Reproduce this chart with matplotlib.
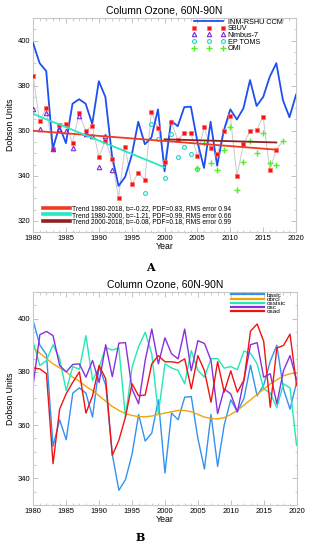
import matplotlib

matplotlib.use("Agg")
import matplotlib.pyplot as plt
from matplotlib.ticker import MultipleLocator

plt.rcParams["font.family"] = ["Liberation Sans", "DejaVu Sans"]

years = list(range(1980, 2021))

# model run (panel A "INM-RSHU CCM" == panel B "basic")
inm = [399, 390, 386.5, 352, 362, 354.5, 372, 374, 372, 363,
       382, 375, 349, 335.5, 339.5, 349, 364, 354, 357, 369.5,
       342, 364.5, 362, 370.5, 370.7, 355, 343.5, 364, 344.5, 360,
       369.5, 365, 370, 382.5, 371, 375, 384, 390, 373.6, 366,
       376]

sbuv_years = list(range(1980, 2018))
sbuv = [384.5, 364.2, 370, 352, 362.5, 363.2, 354.5, 367.7, 360, 362.2,
        348.5, 355.5, 347.4, 330.3, 353, 336.2, 341.4, 338, 368.3, 361.2,
        346, 364, 356, 359, 359, 348.7, 361.5, 352.5, 349.5, 360,
        366.6, 339.8, 354, 360, 360.3, 366.3, 342.4, 351.6]

nimbus_years = list(range(1980, 1993))
nimbus = [369.5, 360.8, 368, 352, 361, 360, 352.5, 366.4, 358.5, 357.8,
          344, 357.8, 342.7]

toms_years = list(range(1997, 2006))
toms = [332.2, 363, 356.2, 339, 358.5, 348.3, 353, 349.5, 343]

omi_years = list(range(2005, 2019))
omi = [343.3, 354.5, 345.7, 342.4, 351.4, 361.5, 333.7, 346, 355.5, 350.2,
       359.2, 345.7, 345, 355.5]

obs_years = sbuv_years + [2018]
obs = sbuv + [355.5]

trend_all_x, trend_all_y = [1980, 2017], [360, 351.6]
trend_early_x, trend_early_y = [1980, 2000], [367.5, 343.8]
trend_late_x, trend_late_y = [2000, 2017], [356.2, 354.8]

trend_labels = [
    "Trend 1980-2018, b=-0.22, PDF=0.83, RMS error 0.94",
    "Trend 1980-2000, b=-1.21, PDF=0.99, RMS error 0.66",
    "Trend 2000-2018, b=-0.08, PDF=0.18, RMS error 0.99",
]

# panel B experiments
obrcl = [389, 387, 385, 383, 381.5, 380, 378, 376.5, 374.5, 373,
         371, 369, 367, 365.5, 364.3, 363.6, 363.2, 363.1, 363.4, 364,
         364.5, 365, 365.5, 365.5, 365, 364, 363, 362.5, 362.3, 362.8,
         364, 365.5, 367.5, 369.5, 371.5, 373.5, 375.5, 377, 378.5, 379.3,
         379.5]
ossisic = [391, 382.4, 384.3, 390.2, 385, 373, 382, 381, 393.6, 376.8,
           381.7, 389.2, 388.2, 389, 363, 381.7, 389.5, 394.9, 386.7, 364.3,
           383, 381.5, 380.5, 375.5, 388, 380.5, 378, 385, 385, 381.4,
           382, 380.8, 387.8, 387, 383, 373.6, 372, 366.5, 375.5, 374,
           352.4]
osc = [375.5, 394, 395.2, 393.6, 382.4, 380, 382.8, 383, 378, 384.3,
       376, 390.2, 378.2, 390.8, 391, 373.6, 368, 384.3, 396.1, 383,
       392.8, 386.8, 384.9, 396.1, 380.4, 391.7, 390.7, 384.3, 364.3, 373.6,
       371.7, 364.9, 376.9, 390.2, 391, 378, 379.3, 368, 380.4, 386.1,
       377]
osad = [381.5, 381.1, 379.3, 345.5, 366, 371.8, 376.1, 380, 364.5, 371,
        382.4, 377.4, 348.6, 354.3, 363, 375.5, 371, 371.3, 383, 386.1,
        383.8, 383.8, 383.4, 384.9, 373.6, 386.1, 380.4, 368.6, 383.8, 372.4,
        380.4, 372.4, 376.9, 395.3, 398, 391.5, 366.7, 389, 389.9, 394.2,
        374.9]

x_ticks = list(range(1980, 2021, 5))


def style_axes(ax, ylim, yticks):
    ax.set_xlim(1980, 2020)
    ax.set_ylim(*ylim)
    ax.set_xticks(x_ticks)
    ax.set_yticks(yticks)
    ax.xaxis.set_minor_locator(MultipleLocator(1))
    ax.yaxis.set_minor_locator(MultipleLocator(5))
    ax.tick_params(which="both", direction="in", top=True, right=True,
                   color="#b8b8b8", labelsize=5.5, pad=2)
    ax.tick_params(which="major", length=3.5, width=0.6)
    ax.tick_params(which="minor", length=1.8, width=0.5)
    for spine in ax.spines.values():
        spine.set_color("#c8c8c8")
        spine.set_linewidth(0.8)
    ax.set_title("Column Ozone, 60N-90N", fontsize=7.5, pad=3)
    ax.set_xlabel("Year", fontsize=6.3, labelpad=0)
    ax.set_ylabel("Dobson Units", fontsize=6.3, labelpad=2)


fig = plt.figure(figsize=(3.18, 5.5), dpi=100)

# ---- panel A
ax = fig.add_axes([0.104, 0.578, 0.827, 0.389])
ax.plot(obs_years, obs, color="#c8c8c8", linewidth=0.7, zorder=1)
model_line, = ax.plot(years, inm, color="#1e50f0", linewidth=1.3, zorder=3,
                      label="INM-RSHU CCM")
h_sbuv, = ax.plot(sbuv_years, sbuv, linestyle="none", marker="s", markersize=3.5,
                  color="#ff1010", markeredgecolor="#ff7070", markeredgewidth=0.5,
                  zorder=4, label="SBUV")
h_nim, = ax.plot(nimbus_years, nimbus, linestyle="none", marker="^", markersize=3.2,
                 markerfacecolor="none", markeredgecolor="#7a2ad8",
                 markeredgewidth=0.8, zorder=5, label="Nimbus-7")
h_toms, = ax.plot(toms_years, toms, linestyle="none", marker="o", markersize=2.8,
                  markerfacecolor="none", markeredgecolor="#1ed8c8",
                  markeredgewidth=0.8, zorder=5, label="EP TOMS")
h_omi, = ax.plot(omi_years, omi, linestyle="none", marker="+", markersize=4,
                 color="#50f020", markeredgewidth=1.0, zorder=5, label="OMI")
t1, = ax.plot(trend_all_x, trend_all_y, color="#f03a22", linewidth=1.3, zorder=6)
t2, = ax.plot(trend_early_x, trend_early_y, color="#28e8c0", linewidth=1.3, zorder=6)
t3, = ax.plot(trend_late_x, trend_late_y, color="#8e2222", linewidth=1.3, zorder=6)

style_axes(ax, (315, 410), [320, 340, 360, 380, 400])

leg1 = ax.legend(handles=[model_line, h_sbuv, h_nim, h_toms, h_omi],
                 loc="upper left", bbox_to_anchor=(0.6, 1.005), frameon=False,
                 fontsize=5.2, numpoints=3, handlelength=4.6, handletextpad=0.3,
                 labelspacing=-0.05, borderpad=0.2, borderaxespad=0)
ax.add_artist(leg1)
leg_t = ax.legend(handles=[t1, t2, t3], labels=trend_labels, loc="lower left",
                  bbox_to_anchor=(0.035, 0.03), frameon=False, fontsize=4.8,
                  handlelength=4.0, handletextpad=0.4, labelspacing=-0.1,
                  borderpad=0.1, borderaxespad=0)
for line in leg_t.get_lines():
    line.set_linewidth(2.6)

fig.text(0.472, 0.513, "A", fontsize=8, fontweight="bold", family="DejaVu Serif",
         ha="center", va="center")

# ---- panel B
bx = fig.add_axes([0.1047, 0.082, 0.828, 0.387])
bx.plot(years, inm, color="#3392f0", linewidth=1.0, label="basic")
bx.plot(years, obrcl, color="#f2a40a", linewidth=1.0, label="obrcl")
bx.plot(years, ossisic, color="#22e8b4", linewidth=1.0, label="ossisic")
bx.plot(years, osc, color="#8a2ee0", linewidth=1.0, label="osc")
bx.plot(years, osad, color="#ee1414", linewidth=1.0, label="osad")

style_axes(bx, (330, 410), [340, 360, 380, 400])

leg_b = bx.legend(loc="upper left", bbox_to_anchor=(0.745, 1.005), frameon=False,
                  fontsize=4.6, handlelength=5.2, handletextpad=0.4,
                  labelspacing=-0.22, borderpad=0.2, borderaxespad=0)
for line in leg_b.get_lines():
    line.set_linewidth(1.6)

fig.text(0.44, 0.022, "B", fontsize=8, fontweight="bold", family="DejaVu Serif",
         ha="center", va="center")

fig.savefig("out.png", dpi=100)
plt.close(fig)
